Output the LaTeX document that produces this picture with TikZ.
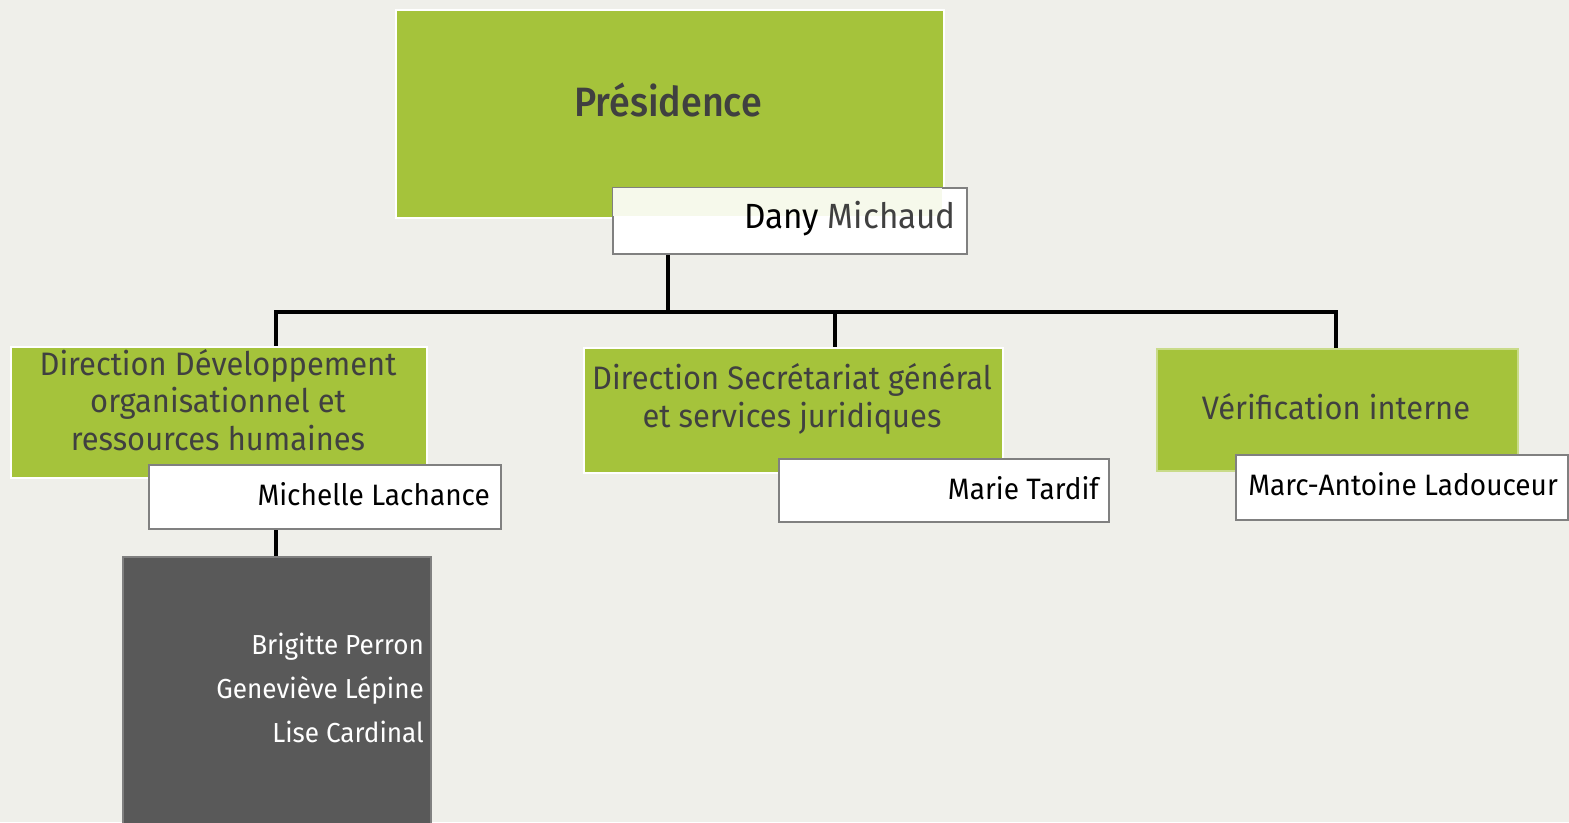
\documentclass[tikz,border=0pt]{standalone}
\usepackage{fontspec}
\setmainfont[FakeStretch=0.95]{Fira Sans}
\newfontfamily\medfont[FakeStretch=0.92]{Fira Sans Medium}
\definecolor{bg}{HTML}{EFEFEA}
\definecolor{grn}{HTML}{A5C33B}
\definecolor{txt}{HTML}{404040}
\definecolor{brd}{HTML}{808080}
\definecolor{dark}{HTML}{595959}
\begin{document}
\begin{tikzpicture}[x=1pt,y=-1pt,
  greenbox/.style={draw=white,line width=2pt,fill=grn,anchor=north west,inner sep=0pt},
  namebox/.style={draw=brd,line width=2pt,fill=white,anchor=north west,inner sep=0pt},
  label/.style={text=txt,font=\fontsize{32.5}{37.5}\selectfont,align=center,inner sep=0pt},
  nm/.style={text=black,font=\fontsize{29.5}{36}\selectfont,anchor=east,inner sep=0pt},
  conn/.style={line width=3.2pt,black}]
\useasboundingbox[fill=bg] (0,0) rectangle (1569,822);
% green boxes
\node[greenbox,minimum width=548pt,minimum height=208pt] (pres) at (395,9) {};
\node[greenbox,minimum width=416pt,minimum height=131pt] (g1) at (10,346) {};
\node[greenbox,minimum width=419pt,minimum height=125pt] (g2) at (583,347) {};
\node[greenbox,draw=grn!60!white,minimum width=361pt,minimum height=122pt] (g3) at (1156,348) {};
% titles
\node[label,font=\medfont\fontsize{41}{48}\selectfont] (tpres) at (668,100) {Présidence};
\node[label] (t1) at (218,400) {Direction Développement\\organisationnel et\\ressources humaines};
\node[label] (t2) at (792,399) {Direction Secrétariat général\\et services juridiques};
\node[label] (t3) at (1336,407) {Vérification interne};
% name boxes
\node[namebox,minimum width=354pt,minimum height=66pt] (dany) at (612,187) {};
\fill[grn!10!white] (613,188) rectangle (942,216);
\node[namebox,minimum width=352pt,minimum height=64pt] (mich) at (148,464) {};
\node[namebox,minimum width=330pt,minimum height=63pt] (marie) at (778,458) {};
\node[namebox,minimum width=332pt,minimum height=65pt] (marc) at (1235,454) {};
\node[nm,font=\fontsize{35}{40}\selectfont] (ndany) at (956,219) {Dany \textcolor{txt}{Michaud}};
\node[nm] (nmich) at (490,494) {Michelle Lachance};
\node[nm] (nmarie) at (1099,488) {Marie Tardif};
\node[nm] (nmarc) at (1558,484) {Marc-Antoine Ladouceur};
% dark box
\node[draw=brd,line width=2pt,fill=dark,anchor=north west,inner sep=0pt,minimum width=308pt,minimum height=280pt] (team) at (122,556) {};
\node[text=white,font=\fontsize{27.5}{44}\selectfont,align=right,anchor=east,inner sep=0pt] (names) at (424,688) {Brigitte Perron\\Geneviève Lépine\\Lise Cardinal};
% connectors
\coordinate (b1) at (276,312);
\coordinate (b2) at (835,312);
\coordinate (b3) at (1336,312);
\draw[conn] (dany.south -| 668,0) -- (668,312);
\draw[conn,line cap=rect] (b1) -- (b3);
\draw[conn] (b1) -- (b1 |- g1.north);
\draw[conn] (b2) -- (b2 |- g2.north);
\draw[conn] (b3) -- (b3 |- g3.north);
\draw[conn] (mich.south -| b1) -- (team.north -| b1);
\end{tikzpicture}
\end{document}
